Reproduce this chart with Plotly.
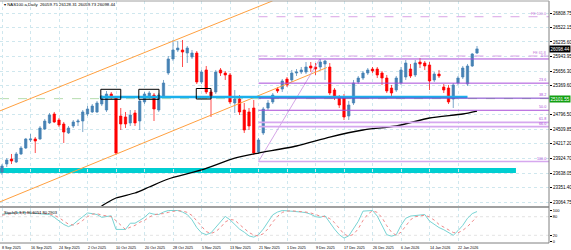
import plotly.graph_objects as go

# ---------------- data ----------------
sep = [8, 9, 10, 11, 12, 15, 16, 17, 18, 19, 22, 23, 24, 25, 26, 29, 30]
octo = [1, 2, 3, 6, 7, 8, 9, 10, 13, 14, 15, 16, 17, 20, 21, 22, 23, 24, 27, 28, 29, 30, 31]
nov = [3, 4, 5, 6, 7, 10, 11, 12, 13, 14, 17, 18, 19, 20, 21, 24, 25, 26, 27, 28]
dec = [1, 2, 3, 4, 5, 8, 9, 10, 11, 12, 15, 16, 17, 18, 19, 22, 23, 24, 26, 29, 30, 31]
jan = [2, 5, 6, 7, 8, 9, 12, 13, 14, 15, 16, 19, 20, 21, 22, 23, 26, 27, 28]
dates = ([f"{d} Sep 2025" for d in sep] + [f"{d} Oct 2025" for d in octo] +
         [f"{d} Nov 2025" for d in nov] + [f"{d} Dec 2025" for d in dec] +
         [f"{d} Jan 2026" for d in jan])

open_ = [23659, 23817, 23916, 23857, 24016, 24134, 24293, 24313, 24313, 24511,
         24630, 24808, 24689, 24610, 24432, 24570, 24650, 24669, 24808, 24848,
         24848, 25006, 24887, 25204, 25125, 24768, 24749, 24630, 24828, 24669,
         25046, 25145, 25184, 24887, 25165, 25620, 25898, 26076, 26076, 26016,
         25937, 26016, 25442, 25680, 25244, 25244, 25680, 25620, 25581, 25026,
         25105, 24887, 24848, 24927, 24055, 24432, 24927, 25046, 25303, 25303,
         25501, 25482, 25620, 25640, 25640, 25759, 25739, 25739, 25799, 25739,
         25283, 25125, 25145, 24768, 25026, 25442, 25521, 25620, 25699, 25699,
         25620, 25521, 25323, 25283, 25422, 25541, 25699, 25581, 25838, 25818,
         25779, 25482, 25600, 25343, 25323, 25105, 25422, 25541, 25402, 25759,
         26016]
close_ = [23778, 23897, 23877, 24016, 24134, 24313, 24313, 24273, 24531, 24669,
          24788, 24650, 24590, 24451, 24531, 24650, 24669, 24848, 24907, 24966,
          25026, 25145, 25204, 25145, 24035, 24610, 24610, 24788, 24630, 25066,
          25204, 25224, 24907, 25184, 25422, 25898, 26076, 26115, 26036, 26115,
          26016, 25442, 25640, 25244, 25145, 25640, 25620, 25581, 25046, 25105,
          24848, 24491, 24570, 24035, 24293, 24907, 25026, 25184, 25264, 25462,
          25383, 25620, 25640, 25680, 25739, 25719, 25699, 25838, 25858, 25224,
          25145, 24986, 24749, 24986, 25422, 25521, 25620, 25680, 25660, 25581,
          25521, 25264, 25224, 25521, 25680, 25818, 25561, 25818, 25799, 25759,
          25462, 25600, 25561, 25283, 25046, 25383, 25521, 25719, 25759, 25997,
          26098]
high_ = [23817, 23936, 24016, 24055, 24174, 24333, 24412, 24352, 24570, 24709,
         24828, 24848, 24729, 24650, 24570, 24689, 24709, 24887, 24966, 25006,
         25066, 25184, 25264, 25244, 25165, 24927, 24848, 24887, 24887, 25105,
         25244, 25264, 25224, 25224, 25482, 25957, 26274, 26254, 26274, 26155,
         26076, 26056, 25680, 25759, 25283, 25680, 25719, 25660, 25620, 25283,
         25184, 25026, 24927, 25085, 24333, 24947, 25085, 25224, 25343, 25501,
         25541, 25680, 25699, 25739, 25838, 25838, 25818, 25898, 25878, 25818,
         25323, 25184, 25204, 25066, 25482, 25561, 25660, 25719, 25739, 25739,
         25660, 25581, 25383, 25561, 25739, 25878, 25799, 25878, 25917, 25858,
         25838, 25640, 25680, 25402, 25383, 25422, 25561, 25759, 25799, 26016,
         26155]
low_ = [23600, 23758, 23817, 23837, 23996, 24115, 24253, 24035, 24293, 24491,
        24610, 24630, 24550, 24234, 24412, 24531, 24570, 24451, 24768, 24828,
        24828, 24966, 24848, 25105, 23996, 24491, 24531, 24570, 24570, 24491,
        25006, 25105, 24669, 24848, 25145, 25581, 25858, 26036, 25739, 25818,
        25898, 25402, 25402, 25204, 24749, 25204, 25561, 25482, 25006, 24828,
        24788, 24432, 24491, 23996, 24016, 24392, 24887, 25006, 25224, 25244,
        25343, 25442, 25561, 25600, 25600, 25640, 25581, 25680, 25482, 25184,
        25085, 24927, 24689, 24689, 24986, 25402, 25482, 25581, 25620, 25521,
        25383, 25224, 25165, 25244, 25383, 25482, 25521, 25541, 25719, 25680,
        25283, 25442, 25521, 25224, 25006, 24927, 25383, 25501, 25363, 25739,
        25997]

stoch_k = [88, 90, 92, 93, 94, 93, 92, 90, 90, 89,
           87, 78, 66, 55, 48, 55, 68, 81, 92, 90,
           87, 78, 80, 83, 39, 39, 39, 59, 59, 68,
           78, 92, 88, 87, 95, 100, 100, 100, 95, 87,
           70, 45, 28, 22, 28, 45, 62, 81, 70, 55,
           40, 30, 18, 14, 22, 40, 62, 86, 95, 100,
           99, 98, 98, 95, 93, 88, 80, 78, 83, 60,
           40, 22, 11, 18, 40, 65, 98, 100, 100, 82,
           50, 22, 17, 22, 52, 75, 82, 83, 85, 87,
           66, 55, 45, 38, 30, 20, 35, 52, 75, 90,
           96.6]
stoch_d = [85, 88, 90, 92, 93, 93, 93, 92, 91, 90,
           89, 85, 77, 66, 56, 53, 57, 68, 80, 88,
           90, 85, 82, 80, 67, 54, 39, 46, 52, 62,
           68, 79, 86, 89, 90, 94, 98, 100, 98, 94,
           84, 67, 48, 32, 26, 32, 45, 63, 71, 69,
           55, 42, 29, 21, 18, 25, 41, 63, 81, 94,
           98, 99, 98, 97, 95, 92, 87, 82, 80, 74,
           61, 41, 24, 17, 23, 41, 68, 88, 99, 94,
           77, 51, 30, 20, 30, 50, 70, 80, 83, 85,
           79, 69, 55, 46, 38, 29, 28, 36, 48, 64,
           80.3]

ma_bars = [20, 22, 24, 28, 31, 35, 42, 49, 54, 62, 69, 76, 83, 90, 97, 100]
ma_vals = [22926, 23045, 23144, 23243, 23362, 23520, 23699, 23936, 24035,
           24174, 24352, 24491, 24570, 24729, 24808, 24867]

price_ticks = [26808.75, 26522.15, 26235.60, 25943.95, 25656.30, 25369.60,
               24796.50, 24509.85, 24217.20, 23924.70, 23638.05, 23351.40, 23064.75]
price_tick_text = ["26808.75", "26522.15", "26235.60", "25943.95", "25656.30", "25369.60",
                   "24796.50", "24509.85", "24217.20", "23924.70", "23638.05", "23351.40", "23064.75"]

fib_labels = ["0.0", "23.6", "38.2", "50.0", "61.8", "66.0", "100.0"]
fib_prices = [25898, 25419, 25122, 24882, 24643, 24557, 23867]
fib_start_bar = 54
fe_labels = ["FE 61.8", "FE 100.0"]
fe_prices = [25957, 26735]
fib_trend_bars = [54, 66.9]
fib_trend_prices = [23867, 25898]

chan_up_bars = [-1, 57]
chan_up_prices = [24848, 27050]
chan_lo_bars = [-1, 68.4]
chan_lo_prices = [23045, 25729]

support_zone = [23640, 23738]
support_zone_end = 108.2
blue_level = 25145
blue_bars = [20.6, 98.0]
green_level = 25112
boxes = [(20.8, 25.0, 25099, 25297), (28.8, 33.05, 25099, 25297), (40.9, 44.0, 25105, 25313)]

title_text = "NAS100.a,Daily  26059.75 26128.31 26059.73 26098.44"
stoch_text = "Stoch(5,3,3) 96.6051 80.2903"
last_price_text = "26098.44"
green_text = "25101.55"

# ---------------- figure ----------------
W, H = 571, 250
ML, MR, MT, MB = 0, 22, 1, 7
PH = H - MT - MB
def py(pix):  # pixel row -> paper y
    return (H - MB - pix) / PH

x = list(range(len(dates)))
FONT = "Liberation Sans"

fig = go.Figure()
fig.add_trace(go.Candlestick(
    x=x, open=open_, high=high_, low=low_, close=close_,
    increasing=dict(fillcolor="#4682B4", line=dict(color="#4682B4", width=0.7)),
    decreasing=dict(fillcolor="#FF0000", line=dict(color="#FF0000", width=0.7)),
    whiskerwidth=0, showlegend=False, hoverinfo="skip", yaxis="y"))

# channel lines
fig.add_trace(go.Scatter(x=chan_up_bars, y=chan_up_prices, mode="lines",
                         line=dict(color="#FFA040", width=1), showlegend=False, yaxis="y"))
fig.add_trace(go.Scatter(x=chan_lo_bars, y=chan_lo_prices, mode="lines",
                         line=dict(color="#FFA040", width=1), showlegend=False, yaxis="y"))
# fib trend line
fig.add_trace(go.Scatter(x=fib_trend_bars, y=fib_trend_prices, mode="lines",
                         line=dict(color="#c98ee0", width=0.8), showlegend=False, yaxis="y"))
# moving average
fig.add_trace(go.Scatter(x=ma_bars, y=ma_vals, mode="lines",
                         line=dict(color="#000000", width=1.3, shape="spline", smoothing=0.6),
                         showlegend=False, yaxis="y"))
# stochastic
fig.add_trace(go.Scatter(x=x, y=stoch_k, mode="lines", line=dict(color="#78d4d4", width=1),
                         showlegend=False, yaxis="y2"))
fig.add_trace(go.Scatter(x=x, y=stoch_d, mode="lines", line=dict(color="#f08a8a", width=1, dash="dot"),
                         showlegend=False, yaxis="y2"))

shapes = []
# support zone
shapes.append(dict(type="rect", xref="x", yref="y", x0=-2, x1=support_zone_end,
                   y0=support_zone[0], y1=support_zone[1], fillcolor="#00CED1",
                   line=dict(width=0), layer="below"))
# green dashed line
shapes.append(dict(type="line", xref="paper", yref="y", x0=0, x1=1, y0=green_level, y1=green_level,
                   line=dict(color="#b5dcae", width=1, dash="dash"), layer="below"))
# blue level
shapes.append(dict(type="line", xref="x", yref="y", x0=blue_bars[0], x1=blue_bars[1],
                   y0=blue_level, y1=blue_level, line=dict(color="#1ab0ec", width=2.7)))
# fib lines
fib_cols = ["#a84bd8", "#a84bd8", "#7a3fc8", "#a84bd8", "#d6a8ef", "#d6a8ef", "#d6a8ef"]
fib_w = [1, 1, 1, 1, 1.6, 1.6, 1.6]
for p, c, w in zip(fib_prices, fib_cols, fib_w):
    shapes.append(dict(type="line", xref="x", yref="y", x0=fib_start_bar, x1=200, y0=p, y1=p,
                       line=dict(color=c, width=w)))
for p in fe_prices:
    shapes.append(dict(type="line", xref="x", yref="y", x0=fib_start_bar, x1=200, y0=p, y1=p,
                       line=dict(color="#d9a3e6", width=1, dash="dash")))
# boxes
for b in boxes:
    shapes.append(dict(type="rect", xref="x", yref="y", x0=b[0], x1=b[1], y0=b[2], y1=b[3],
                       line=dict(color="#000000", width=1), fillcolor="rgba(0,0,0,0)"))
# stoch levels
for lv in [20, 80]:
    shapes.append(dict(type="line", xref="paper", yref="y2", x0=0, x1=1, y0=lv, y1=lv,
                       line=dict(color="#d0d0d0", width=0.6, dash="dot"), layer="below"))
# borders / separator
shapes.append(dict(type="rect", xref="paper", yref="paper", x0=0, x1=1, y0=py(208), y1=py(206),
                   fillcolor="#a0a0a0", line=dict(width=0)))
shapes.append(dict(type="line", xref="paper", yref="paper", x0=1, x1=1, y0=0, y1=1,
                   line=dict(color="#808080", width=1)))
shapes.append(dict(type="line", xref="paper", yref="paper", x0=0, x1=1, y0=1, y1=1,
                   line=dict(color="#a0a0a0", width=1)))
shapes.append(dict(type="line", xref="paper", yref="paper", x0=0, x1=1, y0=0, y1=0,
                   line=dict(color="#808080", width=1)))

ann = []
# date labels
for i in range(0, len(dates), 6):
    ann.append(dict(x=i, y=0, xref="x", yref="paper", text=dates[i], showarrow=False,
                    xanchor="left", yanchor="top", xshift=-2, yshift=-0.5,
                    font=dict(size=3.7, color="#000000", family=FONT)))
# fib labels
for t, p in zip(fib_labels, fib_prices):
    ann.append(dict(x=0.998, y=p, xref="paper", yref="y", text=t, showarrow=False,
                    xanchor="right", yanchor="bottom", yshift=-1,
                    font=dict(size=3.7, color="#a84bd8", family=FONT)))
for t, p in zip(fe_labels, fe_prices):
    ann.append(dict(x=0.998, y=p, xref="paper", yref="y", text=t, showarrow=False,
                    xanchor="right", yanchor="bottom", yshift=-1,
                    font=dict(size=3.7, color="#c27ad8", family=FONT)))
# title
ann.append(dict(x=0.004, y=py(4.5), xref="paper", yref="paper", text="\u25be " + title_text,
                showarrow=False, xanchor="left", yanchor="middle",
                font=dict(size=4.3, color="#000000", family=FONT)))
ann.append(dict(x=0.004, y=py(212.5), xref="paper", yref="paper", text=stoch_text,
                showarrow=False, xanchor="left", yanchor="middle",
                font=dict(size=4, color="#000000", family=FONT)))
# price boxes on axis
ann.append(dict(x=1, y=close_[-1], xref="paper", yref="y", text=last_price_text, showarrow=False,
                xanchor="left", yanchor="middle", bgcolor="#000000", borderpad=0.6,
                font=dict(size=4.5, color="#ffffff", family=FONT)))
ann.append(dict(x=1, y=25105, xref="paper", yref="y", text=green_text, showarrow=False,
                xanchor="left", yanchor="middle", bgcolor="#12a012", borderpad=0.6,
                font=dict(size=4.5, color="#ffffff", family=FONT)))

grid = "#cfe7ee"
fig.update_layout(
    width=W, height=H, margin=dict(l=ML, r=MR, t=MT, b=MB),
    paper_bgcolor="#ffffff", plot_bgcolor="#ffffff",
    showlegend=False, shapes=shapes, annotations=ann,
    xaxis=dict(range=[-2 / 4.75, 547 / 4.75], tickvals=list(range(0, len(dates), 6)),
               showticklabels=False, showgrid=True, gridcolor=grid, griddash="dot", gridwidth=1,
               zeroline=False, rangeslider=dict(visible=False), anchor="y2", fixedrange=True),
    yaxis=dict(domain=[py(207), 1], range=[22965.6, 27046.5], side="right",
               tickvals=price_ticks, ticktext=price_tick_text, ticks="outside", ticklen=2,
               tickcolor="#000000", tickfont=dict(size=4.5, color="#000000", family=FONT),
               showgrid=True, gridcolor=grid, griddash="dot", zeroline=False, anchor="x"),
    yaxis2=dict(domain=[0, py(208)], range=[-4.84, 108.06], side="right",
                tickvals=[0, 20, 80, 100], ticktext=["0", "20", "80", "100"], ticks="outside",
                ticklen=2, tickcolor="#000000", tickfont=dict(size=4, color="#000000", family=FONT),
                showgrid=False, zeroline=False, anchor="x"),
)
fig.write_html("out.html")
